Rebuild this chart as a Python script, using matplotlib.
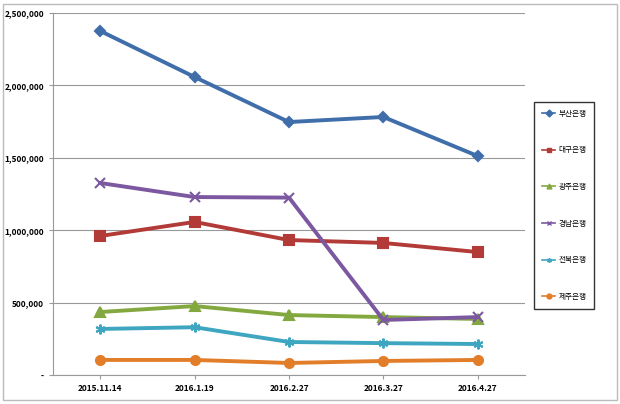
import matplotlib
matplotlib.use("Agg")
import matplotlib.pyplot as plt
from matplotlib.ticker import FuncFormatter, MultipleLocator

plt.rcParams['font.family'] = ['Noto Sans CJK KR', 'DejaVu Sans']

dates = ["2015.11.14", "2016.1.19", "2016.2.27", "2016.3.27", "2016.4.27"]
busan = [2376000, 2058000, 1747000, 1782000, 1512000]
daegu = [960000, 1057000, 932000, 912000, 849000]
gwangju = [435000, 476000, 414000, 400000, 387000]
gyeongnam = [1326000, 1229000, 1225000, 380000, 400000]
jeonbuk = [318000, 330000, 228000, 220000, 214000]
jeju = [104000, 104000, 83000, 97000, 104000]

series = [
    ("부산은행", busan, "#3f6eaa", "D", 5.5),
    ("대구은행", daegu, "#b23b38", "s", 6.5),
    ("광주은행", gwangju, "#84a840", "^", 6.5),
    ("경남은행", gyeongnam, "#7b58a0", "x", 7),
    ("전북은행", jeonbuk, "#3ea6c0", (6, 2, 0), 7),
    ("제주은행", jeju, "#e27d2a", "o", 6.5),
]

fig = plt.figure(figsize=(6.2, 4.04), dpi=100)
fig.patches.append(plt.Rectangle((0.005, 0.01), 0.99, 0.98, transform=fig.transFigure,
                                 fill=False, edgecolor="#bbbbbb", lw=1))
ax = fig.add_axes([53/620, 1-375/404, 472/620, 362/404])
x = list(range(len(dates)))
handles = []
for name, vals, c, m, ms in series:
    h, = ax.plot(x, vals, color=c, lw=2.8, marker=m, ms=ms, mec=c, mfc=c, mew=1.5, label=name)
    handles.append(h)
ax.set_xlim(-0.5, 4.5)
ax.set_ylim(0, 2500000)
ax.yaxis.set_major_locator(MultipleLocator(500000))
ax.yaxis.set_major_formatter(FuncFormatter(lambda v, p: "-" if v == 0 else f"{int(v):,}"))
ax.set_xticks(x)
ax.set_xticklabels(dates, fontweight="bold")
ax.tick_params(labelsize=6, length=3, color="#999999")
ax.grid(axis="y", color="#999999", lw=0.8)
ax.set_axisbelow(True)
for s in ["top", "right"]:
    ax.spines[s].set_visible(False)
ax.spines["left"].set_color("#999999")
ax.spines["bottom"].set_color("#999999")
for lbl in ax.get_yticklabels():
    lbl.set_fontweight("bold")

leg = fig.legend(handles=[plt.Line2D([], [], color=h.get_color(), marker=h.get_marker(), ms=3.5, lw=1.2)
                          for h in handles],
                 labels=[s[0] for s in series], loc="upper left",
                 bbox_to_anchor=(534/620, 1-102/404), fontsize=5.5, labelspacing=3.75,
                 handlelength=1.8, handletextpad=0.4, frameon=True, fancybox=False,
                 borderpad=1.0, borderaxespad=0)
leg.get_frame().set_edgecolor("black")
leg.get_frame().set_linewidth(1)
fig.savefig("out.png", dpi=100)
